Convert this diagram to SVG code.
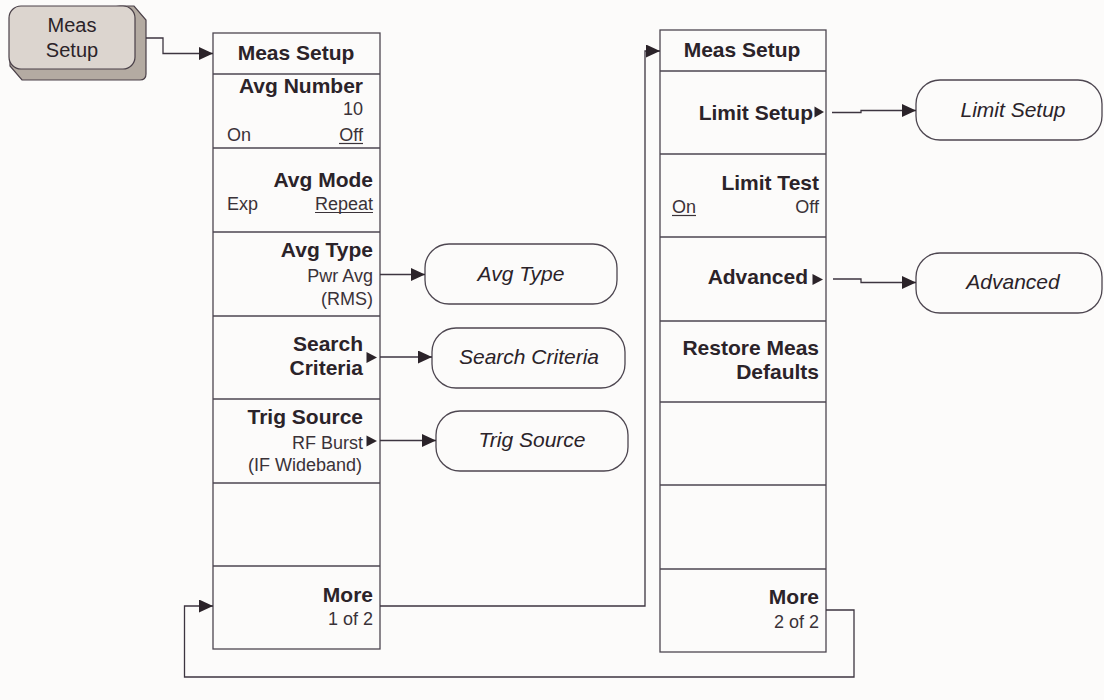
<svg xmlns="http://www.w3.org/2000/svg" width="1104" height="700" viewBox="0 0 1104 700">
<defs>
<marker id="arr" markerUnits="userSpaceOnUse" markerWidth="15" markerHeight="13" refX="14" refY="6.5" orient="auto">
<path d="M0,0 L14,6.5 L0,13 Z" fill="#2b2329"/>
</marker>
<style>
.bg{fill:#fcfbfa}
.menu{fill:#fcfbfa;stroke:#4d4650;stroke-width:1.3}
.sep{stroke:#4d4650;stroke-width:1.3}
.b{font-family:"Liberation Sans",Arial,sans-serif;font-weight:bold;font-size:21px;fill:#2b2329}
.r{font-family:"Liberation Sans",Arial,sans-serif;font-size:18px;fill:#3a3238}
.i{font-family:"Liberation Sans",Arial,sans-serif;font-style:italic;font-size:21px;fill:#2b2329;text-anchor:middle}
.k{font-family:"Liberation Sans",Arial,sans-serif;font-size:20px;fill:#2b2329;text-anchor:middle}
.e{text-anchor:end}
.m{text-anchor:middle}
.ul{stroke:#3a3238;stroke-width:1.2}
.tri{fill:#2b2329}
.oval{fill:#fcfbfa;stroke:#4d4650;stroke-width:1.3}
.c{fill:none;stroke:#3d3540;stroke-width:1.3}
</style>
</defs>
<rect class="bg" x="0" y="0" width="1104" height="700"/>

<g id="key-meas-setup">
<path d="M120,6 L134,6 L146,20 L146,74 Q146,80 140,80 L22,80 L10,66 L10,20 Z" fill="#b4aba2" stroke="#4a4048" stroke-width="1.2"/>
<rect x="9" y="6" width="126" height="63" rx="12" fill="#dcd5cf" stroke="#4a4048" stroke-width="1.2"/>
<text class="k" x="72" y="32">Meas</text>
<text class="k" x="72" y="57">Setup</text>
</g>

<g id="menu1">
<rect class="menu" x="213" y="33" width="167" height="616"/>
<line class="sep" x1="213" y1="74" x2="380" y2="74"/>
<line class="sep" x1="213" y1="148" x2="380" y2="148"/>
<line class="sep" x1="213" y1="232" x2="380" y2="232"/>
<line class="sep" x1="213" y1="316" x2="380" y2="316"/>
<line class="sep" x1="213" y1="399" x2="380" y2="399"/>
<line class="sep" x1="213" y1="483" x2="380" y2="483"/>
<line class="sep" x1="213" y1="566" x2="380" y2="566"/>
<text class="b m" x="296" y="60">Meas Setup</text>
<text class="b e" x="363" y="93">Avg Number</text>
<text class="r e" x="363" y="115">10</text>
<text class="r" x="227" y="141">On</text>
<text class="r e" x="363" y="141">Off</text>
<line class="ul" x1="339" y1="143.5" x2="363" y2="143.5"/>
<text class="b e" x="373" y="187">Avg Mode</text>
<text class="r" x="227" y="210">Exp</text>
<text class="r e" x="373" y="210">Repeat</text>
<line class="ul" x1="315" y1="212.5" x2="373" y2="212.5"/>
<text class="b e" x="373" y="257">Avg Type</text>
<text class="r e" x="373" y="282">Pwr Avg</text>
<text class="r e" x="373" y="305">(RMS)</text>
<text class="b e" x="363" y="351">Search</text>
<text class="b e" x="363" y="375">Criteria</text>
<path class="tri" d="M366.5,352 L377,357.5 L366.5,363 Z"/>
<text class="b e" x="363" y="424">Trig Source</text>
<text class="r e" x="363" y="449">RF Burst</text>
<path class="tri" d="M366.5,435.5 L377,441 L366.5,446.5 Z"/>
<text class="r e" x="362" y="471">(IF Wideband)</text>
<text class="b e" x="373" y="602">More</text>
<text class="r e" x="373" y="625">1 of 2</text>
</g>

<g id="menu2">
<rect class="menu" x="660" y="30" width="166" height="622"/>
<line class="sep" x1="660" y1="71" x2="826" y2="71"/>
<line class="sep" x1="660" y1="154" x2="826" y2="154"/>
<line class="sep" x1="660" y1="237" x2="826" y2="237"/>
<line class="sep" x1="660" y1="321" x2="826" y2="321"/>
<line class="sep" x1="660" y1="402" x2="826" y2="402"/>
<line class="sep" x1="660" y1="485" x2="826" y2="485"/>
<line class="sep" x1="660" y1="569" x2="826" y2="569"/>
<text class="b m" x="742" y="57">Meas Setup</text>
<text class="b e" x="813" y="120">Limit Setup</text>
<path class="tri" d="M814.5,106.5 L824,112 L814.5,117.5 Z"/>
<text class="b e" x="819" y="190">Limit Test</text>
<text class="r" x="672" y="213">On</text>
<line class="ul" x1="672" y1="215.5" x2="696" y2="215.5"/>
<text class="r e" x="819" y="213">Off</text>
<text class="b e" x="808" y="284">Advanced</text>
<path class="tri" d="M812.5,274 L823,279.5 L812.5,285 Z"/>
<text class="b e" x="819" y="355">Restore Meas</text>
<text class="b e" x="819" y="379">Defaults</text>
<text class="b e" x="819" y="604">More</text>
<text class="r e" x="819" y="628">2 of 2</text>
</g>

<g id="node-avg-type">
<rect class="oval" x="425" y="244" width="192" height="60" rx="24"/>
<text class="i" x="521" y="281">Avg Type</text>
</g>
<g id="node-search-criteria">
<rect class="oval" x="432" y="328" width="193" height="60" rx="24"/>
<text class="i" x="529" y="364">Search Criteria</text>
</g>
<g id="node-trig-source">
<rect class="oval" x="436" y="411" width="192" height="60" rx="24"/>
<text class="i" x="532" y="447">Trig Source</text>
</g>
<g id="node-limit-setup">
<rect class="oval" x="916" y="80" width="186" height="60" rx="24"/>
<text class="i" x="1013" y="117">Limit Setup</text>
</g>
<g id="node-advanced">
<rect class="oval" x="916" y="253" width="186" height="60" rx="24"/>
<text class="i" x="1013" y="289">Advanced</text>
</g>

<g id="connectors">
<path class="c" d="M146,38 H163 V53.5 H213" marker-end="url(#arr)"/>
<path class="c" d="M380,274.5 H425" marker-end="url(#arr)"/>
<path class="c" d="M380,357 H432" marker-end="url(#arr)"/>
<path class="c" d="M380,440.5 H436" marker-end="url(#arr)"/>
<path class="c" d="M832,112.5 H861 V110.5 H916" marker-end="url(#arr)"/>
<path class="c" d="M833,279 H861 V282.5 H916" marker-end="url(#arr)"/>
<path class="c" d="M380,606 H645 V51 H660" marker-end="url(#arr)"/>
<path class="c" d="M826,610 H854 V677 H184.5 V606 H213" marker-end="url(#arr)"/>
</g>
</svg>
